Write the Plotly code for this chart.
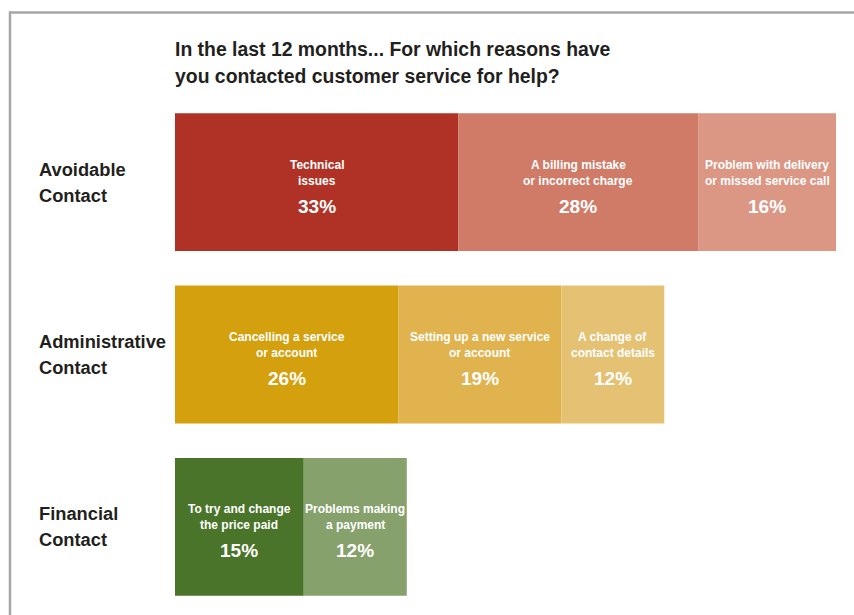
import plotly.graph_objects as go

# Contact groups (top to bottom) and the reasons within each group
groups = ["Avoidable Contact", "Administrative Contact", "Financial Contact"]
group_lines = [["Avoidable", "Contact"], ["Administrative", "Contact"], ["Financial", "Contact"]]

reason_group = [0, 0, 0, 1, 1, 1, 2, 2]
reason_names = [
    ["Technical", "issues"],
    ["A billing mistake", "or incorrect charge"],
    ["Problem with delivery", "or missed service call"],
    ["Cancelling a service", "or account"],
    ["Setting up a new service", "or account"],
    ["A change of", "contact details"],
    ["To try and change", "the price paid"],
    ["Problems making", "a payment"],
]
reason_values = [33, 28, 16, 26, 19, 12, 15, 12]
reason_colors = [
    "#B03226", "#CF7B67", "#DB9684",
    "#D4A00E", "#E0B34F", "#E5C174",
    "#4A7429", "#87A16D",
]

FONT = "Liberation Sans, Helvetica, Arial, sans-serif"
W, H = 854, 615
L, R, T, B = 175, 18, 96, 2
plot_w = W - L - R
plot_h = H - T - B

fig = go.Figure()
annotations = []
offsets = [0.0] * len(groups)

for i, (g, val, col, name) in enumerate(zip(reason_group, reason_values, reason_colors, reason_names)):
    base = offsets[g]
    fig.add_trace(go.Bar(
        x=[val], y=[groups[g]], base=[base], orientation="h",
        marker=dict(color=col, line=dict(width=0)),
        width=0.8, showlegend=False, hoverinfo="skip",
    ))
    xc = base + val / 2
    annotations.append(dict(
        x=xc, y=groups[g], xref="x", yref="y", showarrow=False,
        text="<b>" + name[0] + "</b>", yshift=17.5,
        font=dict(family=FONT, size=12, color="white"),
    ))
    annotations.append(dict(
        x=xc, y=groups[g], xref="x", yref="y", showarrow=False,
        text="<b>" + name[1] + "</b>", yshift=1.5,
        font=dict(family=FONT, size=12, color="white"),
    ))
    annotations.append(dict(
        x=xc, y=groups[g], xref="x", yref="y", showarrow=False,
        text=f"<b>{val}%</b>", yshift=-24,
        font=dict(family=FONT, size=19, color="white"),
    ))
    offsets[g] = base + val

# Group labels on the left
for g, lines in zip(groups, group_lines):
    for k, line in enumerate(lines):
        annotations.append(dict(
            x=(39 - L) / plot_w, xref="paper", y=g, yref="y", xshift=-2,
            xanchor="left", showarrow=False, align="left",
            text="<b>" + line + "</b>", yshift=13 - 26 * k,
            font=dict(family=FONT, size=18.3, color="#231F20"),
        ))

# Two-line heading
title_lines = ["In the last 12 months... For which reasons have",
               "you contacted customer service for help?"]
for k, line in enumerate(title_lines):
    annotations.append(dict(
        x=0, xref="paper", y=1, yref="paper", xanchor="left", yanchor="middle",
        xshift=-2, showarrow=False, text="<b>" + line + "</b>",
        yshift=T - (49 + 27 * k),
        font=dict(family=FONT, size=19.4, color="#231F20"),
    ))

# Grey frame along the top and left edges
frame = dict(color="#A6A6A6", width=2.5)
shapes = [
    dict(type="line", xref="paper", yref="paper",
         x0=(10 - L) / plot_w, x1=(W - L) / plot_w,
         y0=1 + (T - 12.5) / plot_h, y1=1 + (T - 12.5) / plot_h, line=frame),
    dict(type="line", xref="paper", yref="paper",
         x0=(10 - L) / plot_w, x1=(10 - L) / plot_w,
         y0=1 + (T - 11.3) / plot_h, y1=-(B + 5) / plot_h, line=frame),
]

fig.update_layout(
    width=W, height=H,
    margin=dict(l=L, r=R, t=T, b=B, pad=0),
    barmode="overlay",
    paper_bgcolor="white", plot_bgcolor="white",
    xaxis=dict(range=[0, 77], visible=False, fixedrange=True),
    yaxis=dict(categoryorder="array", categoryarray=groups, range=[2.5, -0.5],
               visible=False, fixedrange=True),
    annotations=annotations, shapes=shapes,
)

fig.write_html("out.html", config={"displayModeBar": False})
